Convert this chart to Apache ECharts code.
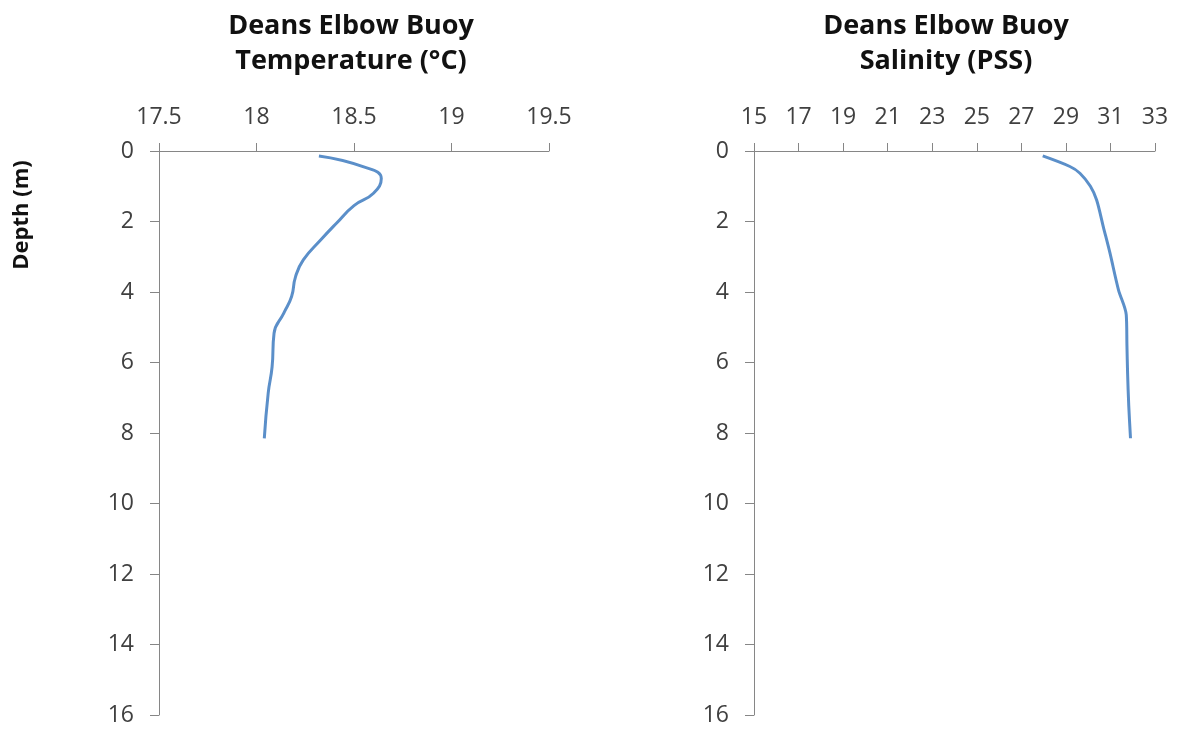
<!DOCTYPE html>
<html>
<head>
<meta charset="utf-8">
<script src="https://cdn.jsdelivr.net/npm/echarts@6/dist/echarts.min.js"></script>
<style>
  html, body { margin: 0; padding: 0; background: #fff; }
  #chart { width: 1178px; height: 729px; }
</style>
</head>
<body>
<div id="chart"></div>
<script>
// Perfil Deans Elbow Buoy
const depth = [0.14, 0.45, 0.78, 1.2, 1.55, 2.05, 2.52, 3.09, 3.57, 4.13, 4.6, 5.17, 6.12, 6.87, 8.15];
const temperature = [18.32, 18.55, 18.64, 18.60, 18.50, 18.41, 18.33, 18.24, 18.20, 18.18, 18.14, 18.09, 18.08, 18.06, 18.04];

const salDepth = [0.14, 0.44, 0.63, 1.0, 1.39, 2.15, 2.9, 3.94, 4.65, 5.5, 6.31, 7.2, 8.15];
const salinity = [27.96, 29.18, 29.63, 30.1, 30.38, 30.68, 30.98, 31.36, 31.71, 31.74, 31.77, 31.82, 31.90];

const tempTicks = [17.5, 18, 18.5, 19, 19.5];
const salTicks = [15, 17, 19, 21, 23, 25, 27, 29, 31, 33];
const depthTicks = [0, 2, 4, 6, 8, 10, 12, 14, 16];

const font = 'Open Sans';
const lineColor = '#5b8fc9';
const axisColor = '#868686';

const chart = echarts.init(document.getElementById('chart'));

function xAxisOpts(gridIndex, ticks) {
    return {
        type: 'value',
        gridIndex: gridIndex,
        position: 'top',
        min: ticks[0],
        max: ticks[ticks.length - 1],
        axisLine: { show: true, lineStyle: { color: axisColor, width: 1 } },
        axisTick: { show: true, length: 8, inside: false, customValues: ticks, lineStyle: { color: axisColor } },
        axisLabel: { customValues: ticks, margin: 22, color: '#404040', fontFamily: font, fontSize: 23 },
        splitLine: { show: false }
    };
}

function yAxisOpts(gridIndex) {
    return {
        type: 'value',
        gridIndex: gridIndex,
        inverse: true,
        min: depthTicks[0],
        max: depthTicks[depthTicks.length - 1],
        interval: 2,
        axisLine: { show: true, lineStyle: { color: axisColor, width: 1 } },
        axisTick: { show: true, length: 9, lineStyle: { color: axisColor } },
        axisLabel: { margin: 25, color: '#404040', fontFamily: font, fontSize: 23 },
        splitLine: { show: false }
    };
}

const titleStyle = { fontFamily: font, fontSize: 27, fontWeight: 'bold', color: '#111', lineHeight: 35 };

chart.setOption({
    animation: false,
    backgroundColor: '#fff',
    title: [
        { text: 'Deans Elbow Buoy\nTemperature (°C)', left: 346, top: 4, textAlign: 'center', textStyle: titleStyle },
        { text: 'Deans Elbow Buoy\nSalinity (PSS)', left: 941, top: 4, textAlign: 'center', textStyle: titleStyle }
    ],
    graphic: [{
        type: 'text',
        x: 22,
        y: 215,
        rotation: Math.PI / 2,
        style: {
            text: 'Depth (m)',
            fill: '#111',
            font: 'bold 22px "Open Sans"',
            textAlign: 'center',
            textVerticalAlign: 'middle'
        }
    }],
    grid: [
        { left: 159, top: 151, width: 390, height: 564 },
        { left: 754, top: 151, width: 401, height: 564 }
    ],
    xAxis: [xAxisOpts(0, tempTicks), xAxisOpts(1, salTicks)],
    yAxis: [yAxisOpts(0), yAxisOpts(1)],
    series: [
        {
            type: 'line',
            xAxisIndex: 0,
            yAxisIndex: 0,
            smooth: 0.5,
            showSymbol: false,
            lineStyle: { color: lineColor, width: 3 },
            data: temperature.map((t, i) => [t, depth[i]])
        },
        {
            type: 'line',
            xAxisIndex: 1,
            yAxisIndex: 1,
            smooth: 0.3,
            showSymbol: false,
            lineStyle: { color: lineColor, width: 3 },
            data: salinity.map((s, i) => [s, salDepth[i]])
        }
    ]
});
</script>
</body>
</html>
